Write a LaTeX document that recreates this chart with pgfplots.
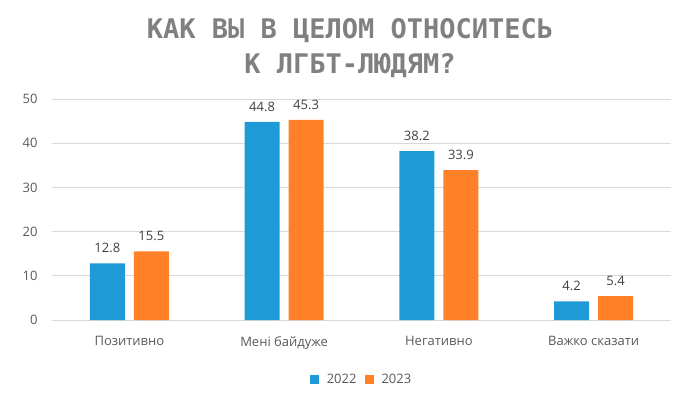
\documentclass[border=0pt]{standalone}
\usepackage{pgfplots}
\pgfplotsset{compat=1.18}
\usepackage{fontspec}
\setmainfont{Open Sans}
\newfontfamily\titlefont{DejaVu Sans Mono}
\definecolor{c22}{RGB}{30,155,215}
\definecolor{c23}{RGB}{255,128,38}
\definecolor{txtgray}{RGB}{89,89,89}
\definecolor{titlegray}{RGB}{128,128,128}

\begin{document}
\begin{tikzpicture}[x=1pt,y=1pt]
\path[use as bounding box] (-52,-80) rectangle (648,320);
\node[font=\titlefont\bfseries\fontsize{27}{35}\selectfont, text=titlegray, align=center]
  at (298,272) {КАК ВЫ В ЦЕЛОМ ОТНОСИТЕСЬ\\К ЛГБТ-ЛЮДЯМ?};
\begin{axis}[
  at={(0,0)}, anchor=south west,
  scale only axis,
  width=619pt, height=221pt,
  ybar=9pt, bar width=35pt,
  xmin=-0.5, xmax=3.5,
  ymin=0, ymax=50,
  xtick={0,1,2,3},
  xticklabels={Позитивно, Мені байдуже, Негативно, Важко сказати},
  ytick={0,10,20,30,40,50},
  ymajorgrids,
  grid style={draw=black!15, line width=0.8pt},
  axis line style={draw=none},
  major tick length=0pt,
  ticklabel style={font=\fontsize{13}{15}\selectfont, text=txtgray},
  xticklabel style={yshift=-13pt},
  yticklabel style={xshift=-11pt},
  /pgf/number format/assume math mode=true,
  nodes near coords,
  nodes near coords style={font=\fontsize{13}{15}\selectfont, text=black!75, yshift=7pt,
    /pgf/number format/.cd, fixed, precision=1, fixed zerofill, assume math mode=true},
  legend style={at={(0.5,-0.2715)}, anchor=center, draw=none,
    font=\fontsize{13}{15}\selectfont, text=txtgray, column sep=6pt},
  legend columns=2,
  legend image code/.code={\fill[#1] (0pt,-4pt) rectangle (9pt,5pt);},
]
\addplot[fill=c22, draw=none] coordinates {(0,12.8) (1,44.8) (2,38.2) (3,4.2)};
\addplot[fill=c23, draw=none] coordinates {(0,15.5) (1,45.3) (2,33.9) (3,5.4)};
\legend{2022, 2023}
\end{axis}
\end{tikzpicture}
\end{document}
